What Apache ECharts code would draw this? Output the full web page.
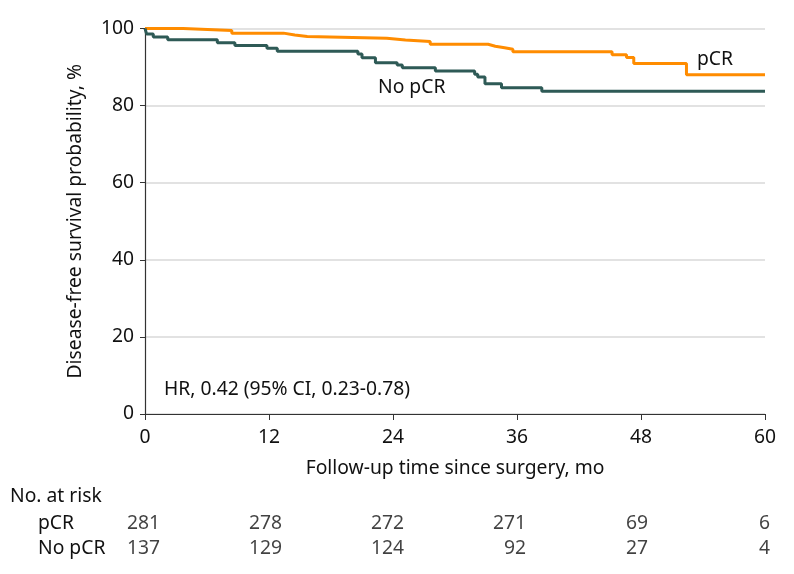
<!DOCTYPE html>
<html><head><meta charset="utf-8">
<script src="https://cdn.jsdelivr.net/npm/echarts@6/dist/echarts.min.js"></script>
<style>html,body{margin:0;padding:0;background:#fff}#c{width:794px;height:574px}</style>
</head><body><div id="c"></div>
<script>
// Kaplan-Meier step points (months, %)
const pcrTimes = [0, 3.7, 8.4, 13.4, 14.5, 15.7, 23.4, 25.2, 27.6, 33.2, 33.9, 34.8, 35.6, 45.2, 46.6, 47.3, 52.4, 60];
const pcrSurv  = [100, 99.5, 98.8, 98.3, 97.9, 97.5, 97.0, 96.6, 95.9, 95.4, 95.0, 94.6, 94.0, 93.2, 92.5, 90.9, 88.0, 88.0];
const noTimes  = [0, 0.15, 0.8, 2.2, 7.0, 8.7, 11.8, 12.8, 20.6, 21.0, 22.3, 24.4, 24.9, 28.1, 31.9, 32.2, 32.9, 34.5, 38.4, 60];
const noSurv   = [100, 98.6, 97.8, 97.1, 96.3, 95.6, 94.9, 94.1, 93.4, 92.4, 91.1, 90.5, 89.8, 89.0, 88.1, 87.4, 85.7, 84.6, 83.7, 83.7];
const xTicks = [0, 12, 24, 36, 48, 60];
const riskPcr = [281, 278, 272, 271, 69, 6];
const riskNo  = [137, 129, 124, 92, 27, 4];
const hrText = 'HR, 0.42 (95% CI, 0.23-0.78)';

const FONT = 'Noto Sans';
const FS = 19.3;
const pair = (ts, vs) => ts.map((t, i) => [t, vs[i]]);
const chart = echarts.init(document.getElementById('c'), null, {renderer: 'canvas'});
const labelRow = (vals, y) => ({
  type: 'scatter', xAxisIndex: 1, yAxisIndex: 1, symbolSize: 0, silent: true,
  data: xTicks.map((t, i) => ({value: [t, y], label: {formatter: String(vals[i])}})),
  label: {show: true, position: 'inside', align: 'right', verticalAlign: 'middle', color: '#111', fontFamily: FONT, fontSize: FS}
});
const txt = (s, x, y) => ({type: 'text', x: x, y: y,
  style: {text: s, fontFamily: FONT, fontSize: FS, fill: '#111', verticalAlign: 'middle', align: 'left'}});
chart.setOption({
  animation: false,
  textStyle: {fontFamily: FONT},
  grid: [
    {left: 145, right: 29, top: 28.5, bottom: 160},
    {left: 160, right: 24, top: 499, height: 75}
  ],
  xAxis: [
    {type: 'value', min: 0, max: 60, interval: 12, gridIndex: 0,
     name: 'Follow-up time since surgery, mo', nameLocation: 'middle', nameGap: 45,
     nameTextStyle: {fontSize: FS, color: '#111', fontFamily: FONT},
     axisLine: {lineStyle: {color: '#333', width: 1.2}},
     axisTick: {show: true, length: 6, lineStyle: {color: '#333'}},
     axisLabel: {fontSize: FS, color: '#111', margin: 14, fontFamily: FONT},
     splitLine: {show: false}},
    {type: 'value', min: 0, max: 60, gridIndex: 1, show: false}
  ],
  yAxis: [
    {type: 'value', min: 0, max: 100, interval: 20, gridIndex: 0,
     name: 'Disease-free survival probability, %', nameLocation: 'middle', nameGap: 60,
     nameTextStyle: {fontSize: FS, color: '#111', fontFamily: FONT},
     axisLine: {show: true, lineStyle: {color: '#333', width: 1.2}},
     axisTick: {show: true, length: 5, lineStyle: {color: '#333'}},
     axisLabel: {fontSize: FS, color: '#111', margin: 11, fontFamily: FONT},
     splitLine: {show: true, lineStyle: {color: '#d9d9d9', width: 1.5}}},
    {type: 'value', min: 0, max: 3, gridIndex: 1, show: false}
  ],
  series: [
    {type: 'line', step: 'end', data: pair(pcrTimes, pcrSurv), symbol: 'none',
     lineStyle: {color: '#ff8c00', width: 3}, z: 3},
    {type: 'line', step: 'end', data: pair(noTimes, noSurv), symbol: 'none',
     lineStyle: {color: '#2e5a56', width: 3}, z: 4},
    labelRow(riskPcr, 2),
    labelRow(riskNo, 1)
  ],
  graphic: [
    txt('pCR', 697, 60),
    txt('No pCR', 378, 88),
    txt(hrText, 164, 390),
    txt('No. at risk', 10, 497),
    txt('pCR', 38, 524),
    txt('No pCR', 38, 549)
  ]
});
</script></body></html>
